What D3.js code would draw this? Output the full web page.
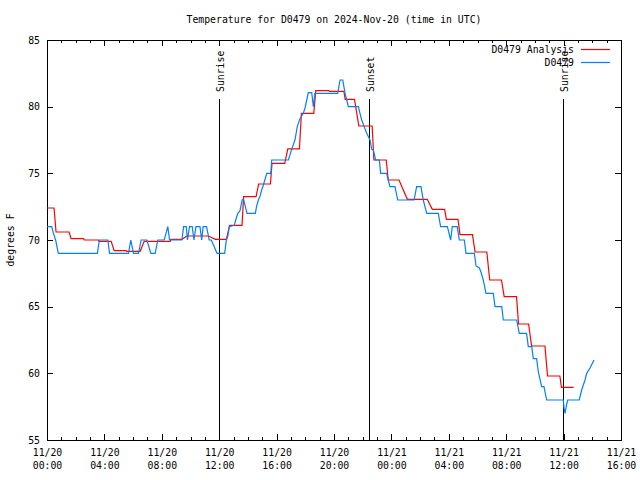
<!DOCTYPE html>
<html><head><meta charset="utf-8">
<script src="https://cdn.jsdelivr.net/npm/d3@7"></script>
<style>
body{margin:0;background:#fff;}
text{font-family:"DejaVu Sans Mono","Liberation Mono",monospace;font-size:9.8px;fill:#000;}
</style></head><body>
<svg id="chart" width="640" height="480"></svg>
<script>
const title = "Temperature for D0479 on 2024-Nov-20 (time in UTC)";
const yLabel = "degrees F";
const seriesNames = ["D0479 Analysis", "D0479"];
const seriesColors = ["#ff0000", "#0080ff"];
const startTime = "2024-11-20T00:00:00Z";
const endHours = 40;
const yTicks = [55, 60, 65, 70, 75, 80, 85];

// hours since 2024-11-20 00:00 UTC
const analysisHours = [0,0.49,0.63,1.54,1.68,2.54,2.6,3.58,3.62,4.47,4.68,5.51,5.55,6.49,6.77,8.59,8.63,9.4,9.75,11.26,11.73,12.5,12.73,13.59,13.7,14.57,14.75,15.57,15.68,16.57,16.78,17.59,17.73,18.59,18.73,19.64,19.68,20.69,20.78,21.43,21.73,22.66,22.78,23.64,23.78,24.53,25.11,26.5,26.85,27.71,27.83,28.64,28.78,29.65,29.83,30.65,30.85,31.67,31.86,32.72,32.86,33.56,33.77,34.7,34.88,35.74,35.85,36.7];
const analysisTemps = [72.4,72.4,70.6,70.6,70.1,70.1,70.0,70.0,69.9,69.9,69.2,69.2,69.15,69.15,69.9,69.9,70.05,70.05,70.3,70.3,70.05,70.05,71.1,71.1,73.25,73.25,74.2,74.2,75.75,75.75,76.83,76.83,79.5,79.5,81.2,81.2,81.15,81.15,80.55,80.55,78.55,78.55,76.0,76.0,74.5,74.5,73.05,73.05,72.3,72.3,71.55,71.55,70.4,70.4,69.1,69.1,67.0,67.0,65.75,65.75,63.7,63.7,62.05,62.05,59.8,59.8,58.95,58.95];

const obsHours = [0,0.33,0.45,0.6,0.79,3.51,3.65,4.24,4.36,5.68,5.84,6.03,6.38,6.56,6.96,7.24,7.54,7.72,8.17,8.42,8.54,9.4,9.52,9.7,9.79,9.93,10.12,10.24,10.38,10.66,10.78,10.88,11.12,11.3,11.45,11.85,12.38,12.5,12.6,12.7,13.05,13.15,13.3,13.45,13.6,13.7,13.8,13.94,14.52,14.6,14.73,14.85,14.96,15.1,15.31,15.6,15.66,16.82,17.05,17.28,17.44,17.63,17.86,17.98,18.1,18.21,18.45,18.56,18.67,20.26,20.42,20.61,20.77,20.89,21.0,21.7,21.81,21.93,22.1,22.28,22.51,22.63,22.74,22.9,23.16,23.25,23.67,23.78,23.9,24.25,24.44,25.58,25.76,26.06,26.22,26.34,26.46,27.27,27.34,27.43,27.9,28.13,28.24,28.59,28.73,29.08,29.2,29.78,29.9,30.13,30.24,30.4,30.59,31.1,31.22,31.69,31.8,32.73,32.91,33.42,33.54,33.78,33.89,34.12,34.24,34.47,34.63,34.82,35.98,36.03,36.1,36.22,36.29,37.09,37.26,37.49,37.61,37.84,38.12];
const obsTemps = [71,71,70.5,70,69,69,70,70,69,69,70,69,69,70,70,69,69,70,70,71,70,70,71,71,70,71,71,70,71,71,70,71,71,70,70,69,69,70,70.3,71,71.1,71.5,72,72.2,73,73.05,72.6,72,72,72.5,73,73.3,73.75,74.2,75,75,76,76,76.8,77.5,78.5,79.1,79.5,79.9,80.5,81.05,81.05,80.0,81,81,82,82,81,80.5,80,80,79.5,79,78.5,78,77.5,76.8,76.75,76,76,75,75,74.5,74,74,73,73,74,74,73,72.5,72,72,71.55,71,71,70,71,71,70,70,69,69,68.05,67.9,67.6,67,66,66,65,65,64,64,63,63,62,62,61.1,61.1,60.1,59,59,58,58,57.4,57,57.7,58,58,58.75,59.5,60,60.4,61];

const eventNames = ["Sunrise", "Sunset", "Sunrise"];
const eventHours = [11.96, 22.46, 35.98];

const svg = d3.select("#chart");
const W = 640, H = 480;
const m = {left: 47, right: 621, top: 40, bottom: 440};
const t0 = new Date(startTime);
const toDate = h => new Date(t0.getTime() + h * 3600e3);

const x = d3.scaleUtc().domain([t0, toDate(endHours)]).range([m.left, m.right]);
const y = d3.scaleLinear().domain([55, 85]).range([m.bottom, m.top]);

svg.append("rect").attr("width", W).attr("height", H).attr("fill", "#fff");

// title
svg.append("text").attr("x", 334).attr("y", 23).attr("text-anchor", "middle").text(title);
// y label
svg.append("text").attr("transform", "translate(14,240) rotate(-90)").attr("text-anchor", "middle").text(yLabel);

const majorTicks = d3.range(0, endHours + 1, 4).map(toDate);
const minorTicks = d3.range(0, endHours + 1, 1).map(toDate);

function styleAxis(g){
  g.select(".domain").remove();
  g.selectAll(".tick line").attr("stroke", "#000").attr("shape-rendering", "crispEdges");
  g.selectAll("text").attr("font-family", null).attr("font-size", null);
}

// bottom major
const gxb = svg.append("g").attr("transform", `translate(0,${m.bottom})`)
  .call(d3.axisBottom(x).tickValues(majorTicks).tickSize(-6).tickPadding(7)
    .tickFormat(d3.utcFormat("%m/%d")));
styleAxis(gxb);
gxb.selectAll(".tick text").each(function(d){
  const t = d3.select(this);
  t.text(null).attr("y", 9).attr("dy", "0.71em");
  t.append("tspan").attr("x", 0).text(d3.utcFormat("%m/%d")(d));
  t.append("tspan").attr("x", 0).attr("dy", 13).text(d3.utcFormat("%H:%M")(d));
});
svg.append("g").attr("transform", `translate(0,${m.bottom})`)
  .call(d3.axisBottom(x).tickValues(minorTicks).tickSize(-3).tickFormat(""))
  .call(styleAxis);
// top mirror
svg.append("g").attr("transform", `translate(0,${m.top})`)
  .call(d3.axisTop(x).tickValues(majorTicks).tickSize(-6).tickFormat(""))
  .call(styleAxis);
svg.append("g").attr("transform", `translate(0,${m.top})`)
  .call(d3.axisTop(x).tickValues(minorTicks).tickSize(-3).tickFormat(""))
  .call(styleAxis);
// left
const gyl = svg.append("g").attr("transform", `translate(${m.left},0)`)
  .call(d3.axisLeft(y).tickValues(yTicks).tickSize(-6).tickPadding(8).tickFormat(d3.format("d")));
styleAxis(gyl);
gyl.selectAll(".tick text").attr("x", -7);
// right mirror
svg.append("g").attr("transform", `translate(${m.right},0)`)
  .call(d3.axisRight(y).tickValues(yTicks).tickSize(-6).tickFormat(""))
  .call(styleAxis);

// frame
svg.append("rect").attr("x", m.left + 0.5).attr("y", m.top + 0.5)
  .attr("width", m.right - m.left).attr("height", m.bottom - m.top)
  .attr("fill", "none").attr("stroke", "#000").attr("shape-rendering", "crispEdges");

// sun events
eventHours.forEach((h, i) => {
  const xx = Math.round(x(toDate(h))) + 0.5;
  svg.append("line").attr("x1", xx).attr("x2", xx).attr("y1", 99).attr("y2", m.bottom)
    .attr("stroke", "#000").attr("stroke-width", 1).attr("shape-rendering", "crispEdges");
  svg.append("text").attr("transform", `translate(${xx + 4},92) rotate(-90)`)
    .attr("text-anchor", "start").text(eventNames[i]);
});

const line = d3.line().x(d => x(toDate(d[0]))).y(d => y(d[1])).curve(d3.curveLinear);
const series = [
  d3.zip(analysisHours, analysisTemps),
  d3.zip(obsHours, obsTemps)
];
series.forEach((s, i) => {
  svg.append("path").datum(s).attr("d", line).attr("fill", "none")
    .attr("stroke", seriesColors[i]).attr("stroke-width", 1.2)
    .attr("stroke-linejoin", "miter");
});

// legend
seriesNames.forEach((n, i) => {
  const ly = 49.5 + i * 13;
  svg.append("text").attr("x", 574).attr("y", ly).attr("dy", "0.35em").attr("text-anchor", "end").text(n);
  svg.append("line").attr("x1", 581).attr("x2", 610).attr("y1", ly).attr("y2", ly)
    .attr("stroke", seriesColors[i]).attr("stroke-width", 1.2);
});
</script>
</body></html>
